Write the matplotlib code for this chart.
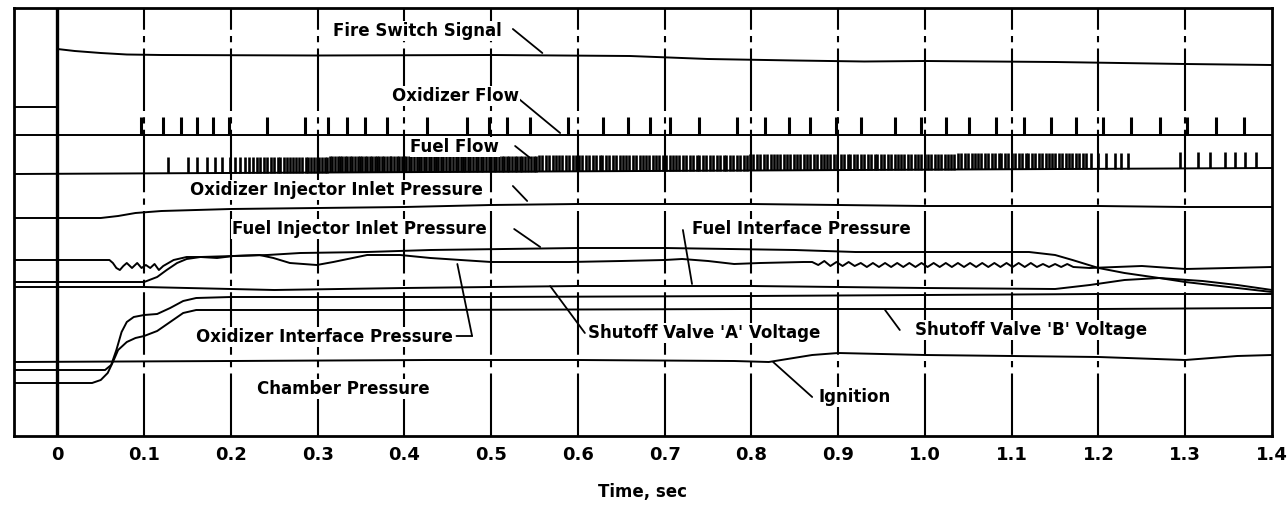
import numpy as np
from matplotlib import pyplot as plt

# oscillograph record, time in sec, trace deflection in chart units (0 = top edge)
fire_t = [-0.05, 0.0, 0.0, 0.02, 0.05, 0.08, 0.12, 0.3, 0.5, 0.66, 0.75, 0.85, 0.93, 1.0, 1.15, 1.3, 1.4]
fire_y = [107, 107, 49, 51, 53, 54.5, 55, 55.5, 55, 56, 59, 60.5, 61.5, 61, 62, 64, 65]

oxflow_base_t = [-0.05, 1.4]
oxflow_base_y = [135, 135]
oxflow_spikes = [0.096, 0.122, 0.142, 0.161, 0.179, 0.198, 0.242, 0.285, 0.312, 0.334, 0.355, 0.380,
                 0.426, 0.472, 0.497, 0.518, 0.545, 0.588, 0.629, 0.658, 0.683, 0.706, 0.739, 0.783,
                 0.816, 0.843, 0.868, 0.898, 0.926, 0.965, 0.995, 1.024, 1.051, 1.082, 1.114, 1.145,
                 1.174, 1.205, 1.237, 1.271, 1.302, 1.335, 1.368]
oxflow_height = 18

fuelflow_base_t = [-0.05, 1.4]
fuelflow_base_y = [174, 168]
fuelflow_spikes_ms = [128, 151, 161, 173, 182, 190, 199, 205, 211, 216, 221, 226, 230, 234, 238, 242, 246,
                      250, 254, 257, 261, 265, 268, 272, 275, 279, 282, 286, 289, 292, 296, 299, 302, 305,
                      308, 311, 314, 317, 320, 323, 326, 328, 331, 334, 337, 340, 343, 346, 349, 351, 354,
                      357, 360, 363, 366, 368, 371, 374, 377, 380, 383, 385, 388, 391, 394, 397, 400, 402,
                      405, 408, 411, 414, 417, 419, 422, 425, 428, 431, 434, 436, 439, 442, 445, 448, 451,
                      453, 456, 459, 462, 465, 468, 470, 473, 476, 479, 482, 485, 488, 491, 494, 497, 500,
                      503, 506, 509, 512, 515, 518, 521, 524, 527, 530, 533, 536, 539, 542, 546, 549, 552,
                      555, 559, 563, 567, 571, 575, 578, 582, 586, 590, 594, 598, 601, 605, 609, 613, 617,
                      621, 625, 628, 632, 636, 640, 644, 648, 652, 655, 659, 663, 667, 671, 675, 679, 682,
                      686, 690, 694, 698, 702, 706, 710, 713, 717, 721, 725, 729, 733, 737, 740, 744, 748,
                      752, 756, 760, 764, 768, 771, 775, 779, 783, 787, 791, 795, 798, 802, 806, 810, 814,
                      818, 822, 826, 829, 833, 837, 841, 845, 849, 853, 856, 860, 864, 868, 872, 876, 880,
                      884, 887, 891, 895, 899, 903, 907, 911, 914, 918, 922, 926, 930, 934, 938, 942, 945,
                      949, 953, 957, 961, 965, 969, 972, 976, 980, 984, 988, 992, 996, 1000, 1003, 1007,
                      1011, 1015, 1019, 1023, 1027, 1030, 1034, 1038, 1042, 1046, 1050, 1054, 1058, 1061,
                      1065, 1069, 1073, 1077, 1081, 1085, 1088, 1092, 1096, 1100, 1104, 1108, 1112, 1116,
                      1119, 1123, 1127, 1131, 1135, 1139, 1143, 1146, 1150, 1154, 1158, 1162, 1166, 1170,
                      1174, 1178, 1182, 1186, 1191, 1199, 1209, 1219, 1226, 1234,
                      1294, 1315, 1329, 1346, 1357, 1369, 1381]
fuelflow_height = 16

oxinj_t = [-0.05, 0.05, 0.07, 0.09, 0.12, 0.2, 0.3, 0.4, 0.5, 0.6, 0.8, 0.9, 1.0, 1.2, 1.3, 1.4]
oxinj_y = [218, 218, 216, 213, 211, 209, 208, 207, 205, 204, 204, 205, 206, 206, 207, 207]

oxint_t = [-0.05, 0.06, 0.064, 0.068, 0.072, 0.076, 0.08, 0.086, 0.092, 0.097, 0.102, 0.107, 0.112,
           0.117, 0.122, 0.134, 0.149, 0.165, 0.184, 0.203, 0.233, 0.249, 0.268, 0.299, 0.318, 0.357,
           0.395, 0.43, 0.5, 0.59, 0.65, 0.7, 0.72, 0.75, 0.78, 0.81, 0.86,
           0.870, 0.877, 0.884, 0.891, 0.898, 0.905, 0.912, 0.919, 0.926, 0.933, 0.940, 0.947, 0.954,
           0.961, 0.968, 0.975, 0.982, 0.989, 0.996, 1.003, 1.010, 1.017, 1.024, 1.031, 1.038, 1.045,
           1.052, 1.059, 1.066, 1.073, 1.080, 1.087, 1.094, 1.101, 1.108, 1.115, 1.122, 1.129, 1.136,
           1.143, 1.150, 1.157, 1.164, 1.171, 1.19, 1.22, 1.25, 1.3, 1.35, 1.4]
oxint_y = [260, 260, 263, 268, 270, 266, 263, 268, 263, 268, 265, 268, 264,
           270, 266, 260, 257, 257, 258, 256, 255, 258, 263, 265, 262, 255,
           255, 258, 262, 262, 261, 260, 259, 261, 264, 263, 262,
           262, 265, 261, 266, 262, 266, 262, 266, 263, 267, 263, 267, 263,
           267, 263, 267, 263, 267, 263, 267, 263, 267, 263, 267, 263, 267,
           263, 267, 263, 267, 263, 267, 263, 267, 263, 267, 263, 267, 264,
           267, 264, 267, 264, 267, 268, 267, 266, 269, 268, 267]

fuelinj_t = [-0.05, 0.1, 0.115, 0.126, 0.138, 0.149, 0.165, 0.203, 0.242, 0.28, 0.357, 0.43, 0.6, 0.7,
             0.85, 0.92, 1.12, 1.15, 1.17, 1.2, 1.23, 1.27, 1.3, 1.35, 1.4]
fuelinj_y = [282, 282, 277, 270, 263, 259, 257, 256, 255, 253, 252, 250, 248, 248,
             250, 252, 252, 255, 260, 268, 273, 278, 282, 287, 292]

valve_a_t = [-0.05, 0.1, 0.2, 0.25, 0.4, 0.6, 0.8, 1.0, 1.15, 1.19, 1.23, 1.27, 1.32, 1.36, 1.4]
valve_a_y = [287, 287, 289, 290, 288, 286, 286, 288, 289, 285, 280, 278, 281, 285, 290]

fuelint_t = [-0.05, 0.055, 0.062, 0.068, 0.074, 0.08, 0.088, 0.1, 0.115, 0.13, 0.145, 0.16, 0.2, 0.5,
             0.8, 1.0, 1.2, 1.4]
fuelint_y = [370, 370, 365, 350, 332, 322, 317, 315, 314, 308, 301, 298, 297, 297, 296, 295, 294, 294]

valve_b_t = [-0.05, 0.04, 0.05, 0.058, 0.064, 0.07, 0.08, 0.09, 0.1, 0.115, 0.13, 0.145, 0.16, 0.4,
             0.8, 1.2, 1.4]
valve_b_y = [383, 383, 380, 373, 362, 350, 342, 338, 336, 331, 322, 313, 310, 310, 309, 309, 308]

ign_t = [-0.05, 0.2, 0.43, 0.6, 0.78, 0.82, 0.87, 0.9, 1.0, 1.2, 1.3, 1.36, 1.4]
ign_y = [362, 361, 360, 360, 361, 362, 355, 353, 355, 357, 360, 356, 355]

ticks = [0, 0.1, 0.2, 0.3, 0.4, 0.5, 0.6, 0.7, 0.8, 0.9, 1.0, 1.1, 1.2, 1.3, 1.4]
tick_labels = ["0", "0.1", "0.2", "0.3", "0.4", "0.5", "0.6", "0.7", "0.8", "0.9",
               "1.0", "1.1", "1.2", "1.3", "1.4"]

plt.rcParams['font.family'] = ['DejaVu Sans']
plt.rcParams['font.weight'] = 'bold'

fig = plt.figure(figsize=(12.88, 5.07), dpi=100)
ax = fig.add_axes([14/1288, 71/507, 1258/1288, 428/507])
ax.set_xlim(-0.05, 1.4)
ax.set_ylim(436, 8)

# time grid
for t in ticks[1:-1]:
    ax.axvline(t, color='k', lw=1.5, ls=(0, (30, 3, 3, 3)), zorder=1)
ax.axvline(0, color='k', lw=2.4, zorder=1)

lw = 1.4
ax.plot(fire_t, fire_y, color='k', lw=lw)
ax.plot(oxflow_base_t, oxflow_base_y, color='k', lw=lw)
ax.vlines(oxflow_spikes, oxflow_base_y[0], oxflow_base_y[0] - oxflow_height, color='k', lw=2.2)

fuel_sp = np.array(fuelflow_spikes_ms) / 1000.0
fuel_base = np.interp(fuel_sp, fuelflow_base_t, fuelflow_base_y)
ax.plot(fuelflow_base_t, fuelflow_base_y, color='k', lw=lw)
ax.vlines(fuel_sp, fuel_base, fuel_base - fuelflow_height, color='k', lw=1.9)

ax.plot(oxinj_t, oxinj_y, color='k', lw=lw)
ax.plot(oxint_t, oxint_y, color='k', lw=lw)
ax.plot(fuelinj_t, fuelinj_y, color='k', lw=lw)
ax.plot(valve_a_t, valve_a_y, color='k', lw=lw)
ax.plot(fuelint_t, fuelint_y, color='k', lw=lw)
ax.plot(valve_b_t, valve_b_y, color='k', lw=lw)
ax.plot(ign_t, ign_y, color='k', lw=lw)

# trace labels
fs = 12
def label(txt, x, y, ha='left'):
    ax.text(x, y, txt, ha=ha, va='center', fontsize=fs, fontweight='bold', zorder=5,
            bbox=dict(facecolor='white', edgecolor='none', pad=0.5))

def leader(x0, y0, x1, y1):
    ax.annotate('', xy=(x1, y1), xytext=(x0, y0),
                arrowprops=dict(arrowstyle='-', color='k', lw=1.3, shrinkA=0, shrinkB=0))

label("Fire Switch Signal", 0.318, 31)
leader(0.525, 29, 0.559, 53)
label("Oxidizer Flow", 0.386, 96)
leader(0.5265, 95, 0.5795, 133)
label("Fuel Flow", 0.407, 147)
leader(0.5276, 146, 0.545, 158)
label("Oxidizer Injector Inlet Pressure", 0.153, 190)
leader(0.525, 186, 0.5415, 201)
label("Fuel Injector Inlet Pressure", 0.201, 229)
leader(0.5265, 229, 0.5565, 247)
label("Fuel Interface Pressure", 0.731, 229)
leader(0.721, 230, 0.7315, 284)
label("Oxidizer Interface Pressure", 0.160, 337)
leader(0.460, 336, 0.478, 336)
leader(0.478, 336, 0.461, 264)
label("Shutoff Valve 'A' Voltage", 0.612, 333)
leader(0.608, 333, 0.568, 286)
label("Shutoff Valve 'B' Voltage", 0.988, 330)
leader(0.971, 330, 0.954, 310)
label("Chamber Pressure", 0.230, 389)
label("Ignition", 0.877, 397)
leader(0.870, 397, 0.825, 362)

ax.set_xticks(ticks)
ax.set_xticklabels(tick_labels, fontsize=13, fontweight='bold')
ax.set_yticks([])
ax.tick_params(axis='x', length=0, pad=7)
ax.set_xlabel("Time, sec", fontsize=12, fontweight='bold', labelpad=14)
for s in ax.spines.values():
    s.set_linewidth(2)

plt.savefig("out.png", dpi=100)
